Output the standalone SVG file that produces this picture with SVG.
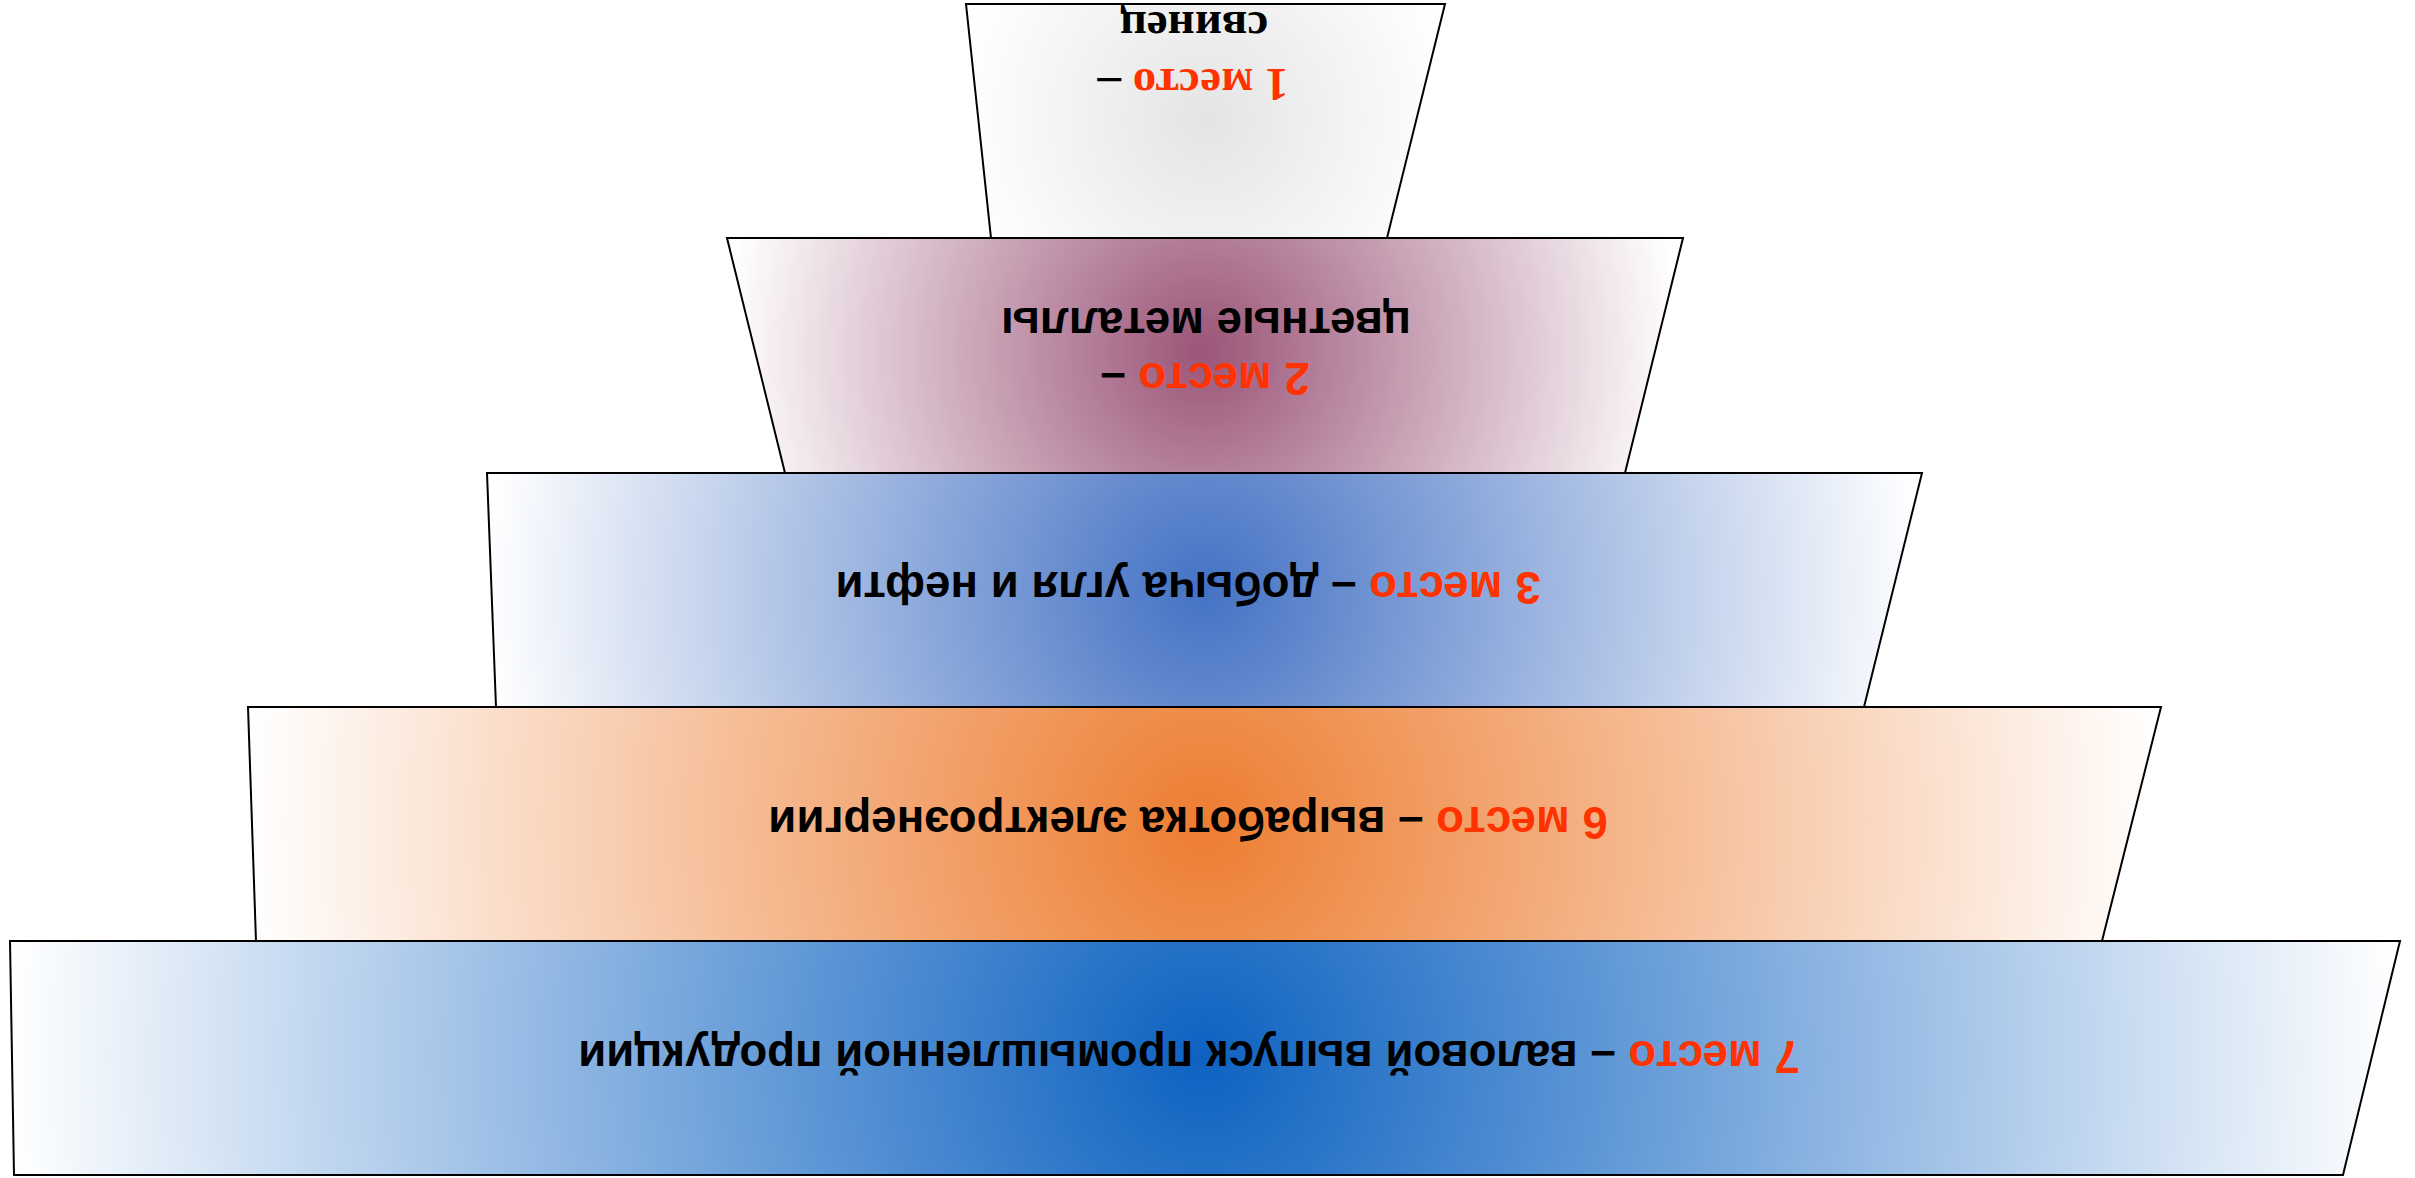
<svg xmlns="http://www.w3.org/2000/svg" width="2415" height="1178" viewBox="0 0 2415 1178">
<style>
.box{stroke:#000;stroke-width:2;stroke-linejoin:miter}
.sans{font-family:"Liberation Sans",Arial,sans-serif;font-weight:bold;font-size:45.6px;fill:#000}
.serif{font-family:"Liberation Serif","Times New Roman",serif;font-weight:bold;font-size:47px;fill:#000}
.red{fill:#ff3300}
</style>
<defs>
<radialGradient id="g1" gradientUnits="userSpaceOnUse" cx="1207" cy="118" r="250"><stop offset="0" stop-color="#e4e4e4"/><stop offset="1" stop-color="#ffffff"/></radialGradient>
<radialGradient id="g2" gradientUnits="userSpaceOnUse" cx="1203" cy="352" r="478"><stop offset="0" stop-color="#9b5578"/><stop offset="1" stop-color="#ffffff"/></radialGradient>
<radialGradient id="g3" gradientUnits="userSpaceOnUse" cx="1204" cy="590" r="718"><stop offset="0" stop-color="#4472c4"/><stop offset="1" stop-color="#ffffff"/></radialGradient>
<radialGradient id="g4" gradientUnits="userSpaceOnUse" cx="1204" cy="824" r="957"><stop offset="0" stop-color="#ed7d31"/><stop offset="1" stop-color="#ffffff"/></radialGradient>
<radialGradient id="g5" gradientUnits="userSpaceOnUse" cx="1204" cy="1058" r="1195"><stop offset="0" stop-color="#0d62c1"/><stop offset="1" stop-color="#ffffff"/></radialGradient>
</defs>
<g id="connectors"/>
<g id="node-1">
<polygon class="box" fill="url(#g1)" points="966,4 1445,4 1387,238 991,238"/>
<g transform="rotate(180 1207.5 589)">
<text class="serif" x="1222" y="1109" text-anchor="middle"><tspan class="red">1 место</tspan> –</text>
<text class="serif" x="1221" y="1166" text-anchor="middle">свинец</text>
</g>
</g>
<g id="node-2">
<polygon class="box" fill="url(#g2)" points="727,238 1683,238 1625,473 785,473"/>
<g transform="rotate(180 1207.5 589)">
<text class="sans" x="1210" y="815" text-anchor="middle"><tspan class="red">2 место</tspan> –</text>
<text class="sans" x="1209" y="870" text-anchor="middle">цветные металлы</text>
</g>
</g>
<g id="node-3">
<polygon class="box" fill="url(#g3)" points="487,473 1922,473 1864,707 496,707"/>
<g transform="rotate(180 1207.5 589)">
<text class="sans" x="1227" y="606" text-anchor="middle"><tspan class="red">3 место</tspan> – добыча угля и нефти</text>
</g>
</g>
<g id="node-4">
<polygon class="box" fill="url(#g4)" points="248,707 2161,707 2102,941 256,941"/>
<g transform="rotate(180 1207.5 589)">
<text class="sans" x="1227" y="371" text-anchor="middle"><tspan class="red">6 место</tspan> – выработка электроэнергии</text>
</g>
</g>
<g id="node-5">
<polygon class="box" fill="url(#g5)" points="10,941 2400,941 2343,1175 14,1175"/>
<g transform="rotate(180 1207.5 589)">
<text class="sans" x="1226" y="137" text-anchor="middle"><tspan class="red">7 место</tspan> – валовой выпуск промышленной продукции</text>
</g>
</g>
</svg>
